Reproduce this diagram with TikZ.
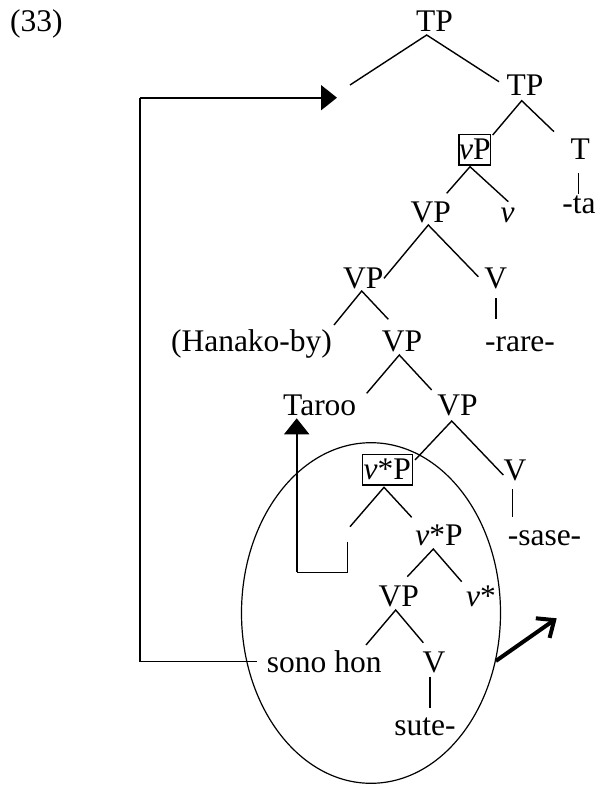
\documentclass[tikz,border=0pt]{standalone}
\usepackage{fontspec}
\setmainfont{Liberation Serif}
\usetikzlibrary{arrows.meta,shapes.geometric}
\begin{document}
\begin{tikzpicture}[x=1pt,y=-1pt,
  lbl/.style={inner sep=0pt, anchor=base, font=\fontsize{31.5}{36}\selectfont},
  boxed/.style={draw, line width=1.4pt, inner sep=0pt, font=\fontsize{31.5}{36}\selectfont},
  br/.style={line width=1.4pt},
  thin move/.style={line width=1.2pt},
  big tip/.style={-{Triangle[length=16pt,width=25pt]}}
]
\useasboundingbox (0,0) rectangle (602,785);

% circle around the embedded clause
\node[draw, ellipse, line width=1.2pt, minimum width=259pt, minimum height=340.6pt, inner sep=0pt] (circ) at (371,613) {};

% labels
\node[lbl, anchor=base west] (num) at (10,31.7) {(33)};
\node[lbl] (tp1) at (434.5,31.7) {TP};
\node[lbl] (tp2) at (525,95) {TP};
\node[boxed, minimum width=31.7pt, minimum height=30.7pt] (vp) at (474.8,149.7) {\textit{v}P};
\node[lbl] (t) at (580.3,159) {T};
\node[lbl] (ta) at (579,213) {-ta};
\node[lbl] (vp3) at (430.8,222) {VP};
\node[lbl] (vl) at (507.5,222) {\textit{v}};
\node[lbl] (vp4) at (363.3,288) {VP};
\node[lbl] (vrare) at (495.8,288) {V};
\node[lbl] (hanako) at (251.5,351) {(Hanako-by)};
\node[lbl] (vp5) at (402,351.7) {VP};
\node[lbl] (rare) at (520,351.7) {-rare-};
\node[lbl] (taroo) at (319.7,415) {Taroo};
\node[lbl] (vp6) at (457.5,415) {VP};
\node[boxed, minimum width=50pt, minimum height=30.7pt] (vsp) at (387.3,469.7) {\textit{v}*P};
\node[lbl] (vsase) at (515,480) {V};
\node[lbl] (vsp2) at (439,545) {\textit{v}*P};
\node[lbl] (sase) at (544.5,545) {-sase-};
\node[lbl] (vp7) at (398.7,606.7) {VP};
\node[lbl] (vstar) at (481,606.7) {\textit{v}*};
\node[lbl] (sono) at (324.2,672.7) {sono hon};
\node[lbl] (vsute) at (434,672.7) {V};
\node[lbl] (sute) at (425,735) {sute-};

% free ends
\coordinate (tpspec) at (350,85);
\coordinate (land) at (337,97.7);
\coordinate (corner) at (140,97.7);
\coordinate (gap) at (350,526.7);
\coordinate (trace) at (347.5,541.7);
\coordinate (out) at (556.7,618.3);

% tree branches
\draw[br] (tpspec) -- ([shift={(-7.8,3.3)}]tp1.base) -- ([shift={(-26,-13.3)}]tp2.base);
\draw[br] ([shift={(17.9,-14.7)}]vp.center) -- ([shift={(-3.3,5.7)}]tp2.base) -- ([shift={(-26.3,-27.3)}]t.base);
\draw[br] ([shift={(-2,14.3)}]t.base) -- ([shift={(-0.7,-19)}]ta.base);
\draw[br] ([shift={(15.9,-28.7)}]vp3.base) -- ([shift={(-4.8,17)}]vp.center) -- ([shift={(0.8,-20.3)}]vl.base);
\draw[br] ([shift={(20.7,-9.7)}]vp4.base) -- ([shift={(-2.5,3)}]vp3.base) -- ([shift={(-17.5,-11.3)}]vrare.base);
\draw[br] ([shift={(0.2,10.3)}]vrare.base) -- ([shift={(-24,-32.4)}]rare.base);
\draw[br] ([shift={(82.5,-26)}]hanako.base) -- ([shift={(-1.6,3)}]vp4.base) -- ([shift={(-13.7,-32.4)}]vp5.base);
\draw[br] ([shift={(47,-21.7)}]taroo.base) -- ([shift={(-2.7,3.3)}]vp5.base) -- ([shift={(-25.8,-25)}]vp6.base);
\draw[br] ([shift={(27.7,-9.7)}]vsp.center) -- ([shift={(-5.8,6)}]vp6.base) -- ([shift={(-11.7,-5)}]vsase.base);
\draw[br] ([shift={(-2.3,9.3)}]vsase.base) -- ([shift={(-31.8,-28.3)}]sase.base);
\draw[br] (gap) -- ([shift={(-3.3,17.6)}]vsp.center) -- ([shift={(-27.3,-27.7)}]vsp2.base);
\draw[br] ([shift={(8.6,-30)}]vp7.base) -- ([shift={(-5.7,4)}]vsp2.base) -- ([shift={(-19.3,-25)}]vstar.base);
\draw[br] ([shift={(41.8,-27.7)}]sono.base) -- ([shift={(-3,3.3)}]vp7.base) -- ([shift={(-10.7,-30)}]vsute.base);
\draw[br] ([shift={(-4,4)}]vsute.base) -- ([shift={(5,-26.7)}]sute.base);

% movement of Taroo
\draw[thin move] (trace) -- ++(0,30.6) -- ++(-50.8,0);
\draw[line width=1.9pt, big tip] ([shift={(-23,157.3)}]taroo.base) -- ([shift={(-23,3.3)}]taroo.base);

% movement of sono hon
\draw[thin move] ([shift={(-67.5,-11)}]sono.base) -| (corner);
\draw[line width=2pt, big tip] (corner) -- (land);

% thick arrow out of the circle
\draw[line width=4pt, -{Straight Barb[length=14pt,width=24pt]}] (circ.-21.4) -- (out);
\end{tikzpicture}
\end{document}
